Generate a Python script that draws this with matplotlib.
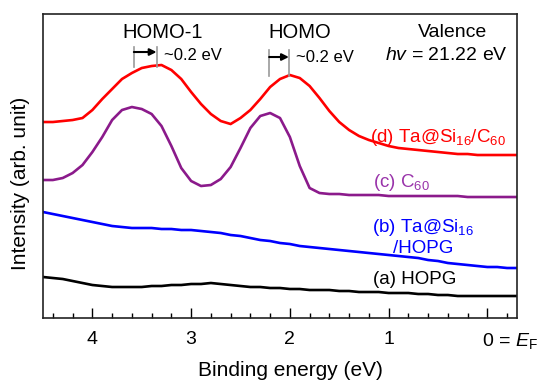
import matplotlib
matplotlib.use("Agg")
import matplotlib.pyplot as plt
import matplotlib.transforms as mtransforms

plt.rcParams['font.family'] = ['Liberation Sans', 'DejaVu Sans']
plt.rcParams['mathtext.fontset'] = 'custom'
plt.rcParams['mathtext.rm'] = 'Liberation Sans'
plt.rcParams['mathtext.it'] = 'Liberation Sans:italic'

# Binding energy grid (eV)
energy = [4.5, 4.4, 4.3, 4.2, 4.1, 4.0, 3.9, 3.8, 3.7, 3.6, 3.5, 3.4, 3.3, 3.2, 3.1,
          3.0, 2.9, 2.8, 2.7, 2.6, 2.5, 2.4, 2.3, 2.2, 2.1, 2.0, 1.9, 1.8, 1.7, 1.6,
          1.5, 1.4, 1.3, 1.2, 1.1, 1.0, 0.9, 0.8, 0.7, 0.6, 0.5, 0.4, 0.3, 0.2, 0.1,
          0.0, -0.1, -0.2, -0.3]

# (d) Ta@Si16/C60
int_d = [196, 196, 197, 198, 200, 208, 219, 229, 239, 245, 250, 252, 253, 248, 239,
         226, 214, 204, 197, 194, 200, 208, 219, 231, 239, 243, 240, 232, 220, 207,
         196, 188, 182, 178, 175, 172, 170, 169, 168, 167, 166, 165, 164, 164, 163,
         163, 163, 163, 163]
# (c) C60
int_c = [138, 138, 140, 145, 153, 166, 181, 198, 208, 211, 209, 204, 192, 172, 150,
         137, 132, 133, 139, 151, 170, 190, 202, 205, 200, 181, 152, 130, 125, 124,
         124, 123, 123, 123, 123, 122, 122, 122, 122, 122, 122, 122, 122, 121, 121,
         121, 121, 121, 121]
# (b) Ta@Si16/HOPG
int_b = [106, 104, 102, 100, 98, 96, 94, 92, 91, 90, 90, 90, 89, 89, 88,
         88, 87, 86, 85, 83, 82, 80, 78, 77, 75, 74, 72, 71, 70, 69,
         68, 67, 66, 65, 64, 63, 62, 61, 60, 58, 57, 55, 54, 53, 52,
         51, 51, 50, 50]
# (a) HOPG
int_a = [41, 40, 39, 37, 35, 33, 32, 31, 31, 31, 31, 32, 32, 33, 33,
         34, 34, 35, 34, 33, 32, 31, 31, 30, 30, 29, 29, 28, 28, 28,
         27, 27, 26, 26, 26, 25, 25, 25, 24, 24, 23, 23, 22, 22, 22,
         22, 22, 22, 22]

tick_vals = [4, 3, 2, 1, 0]
tick_labels = ['4', '3', '2', '1', r'0 = $\it{E}_\mathrm{F}$']
minor_ticks = [4.4, 4.2, 3.8, 3.6, 3.4, 3.2, 2.8, 2.6, 2.4, 2.2, 1.8, 1.6, 1.4, 1.2,
               0.8, 0.6, 0.4, 0.2, -0.2]

# shift markers (eV): C60 peak -> Ta@Si16/C60 peak
homo1_shift = [3.58, 3.35]
homo_shift = [2.21, 2.01]

fig = plt.figure(figsize=(5.41, 3.83), dpi=100)
ax = fig.add_axes([0.0795, 0.1697, 0.8761, 0.7937])

lw = 1.9
ax.plot(energy, int_d, color='#ff0000', lw=lw)
ax.plot(energy, int_c, color='#8b1a8b', lw=lw)
ax.plot(energy, int_b, color='#0000ff', lw=lw)
ax.plot(energy, int_a, color='#000000', lw=lw)

ax.set_xlim(4.5, -0.3)
ax.set_ylim(0, 304)
ax.set_yticks([])
ax.set_xticks(tick_vals)
ax.set_xticklabels(tick_labels, fontsize=14)
ax.set_xticks(minor_ticks, minor=True)
ax.tick_params(axis='x', which='major', direction='in', length=7, width=1, pad=9)
ax.tick_params(axis='x', which='minor', direction='in', length=3.5, width=1)
for sp in ax.spines.values():
    sp.set_linewidth(1.2)
    sp.set_color('#222222')

lab0 = ax.get_xticklabels()[-1]
lab0.set_horizontalalignment('left')
lab0.set_transform(lab0.get_transform() + mtransforms.ScaledTranslation(-4/72, 0, fig.dpi_scale_trans))

ax.set_xlabel('Binding energy (eV)', fontsize=15)
ax.xaxis.set_label_coords(0.523, -0.143)
ax.set_ylabel('Intensity (arb. unit)', fontsize=15)
ax.yaxis.set_label_coords(-0.027, 0.444)

# annotations
ax.text(3.29, 286, 'HOMO-1', fontsize=14.5, ha='center', va='center')
ax.text(1.90, 286, 'HOMO', fontsize=14.5, ha='center', va='center')
ax.text(0.35, 286, 'Valence', fontsize=14, ha='center', va='center')
ax.text(-0.21, 263, r'$\it{hv}$ = 21.22 eV', fontsize=14, ha='right', va='center')

ax.plot([homo1_shift[0]] * 2, [251, 271], color='#999999', lw=1.2)
ax.plot([homo1_shift[1]] * 2, [251, 271], color='#999999', lw=1.2)
ax.annotate('', xy=(homo1_shift[1], 266), xytext=(homo1_shift[0], 266),
            arrowprops=dict(arrowstyle='-|>', color='black', lw=1.5, mutation_scale=10,
                            shrinkA=0, shrinkB=0))
ax.text(3.27, 263, '~0.2 eV', fontsize=12, ha='left', va='center')

ax.plot([homo_shift[0]] * 2, [242, 268], color='#999999', lw=1.2)
ax.plot([homo_shift[1]] * 2, [242, 268], color='#999999', lw=1.2)
ax.annotate('', xy=(homo_shift[1], 261), xytext=(homo_shift[0], 261),
            arrowprops=dict(arrowstyle='-|>', color='black', lw=1.5, mutation_scale=10,
                            shrinkA=0, shrinkB=0))
ax.text(1.94, 261, '~0.2 eV', fontsize=12, ha='left', va='center')

ax.text(-0.19, 181, r'(d) Ta@Si$_{16}$/C$_{60}$', fontsize=13.5, color='#ff0000',
        ha='right', va='center')
ax.text(1.16, 136, r'(c) C$_{60}$', fontsize=13.5, color='#9933aa', ha='left', va='center')
ax.text(0.65, 81, '(b) Ta@Si$_{16}$\n/HOPG', fontsize=13.5, color='#0000ff',
        ha='center', va='center', linespacing=1.15)
ax.text(1.16, 39, '(a) HOPG', fontsize=13.5, color='black', ha='left', va='center')

fig.savefig('out.png', dpi=100)
